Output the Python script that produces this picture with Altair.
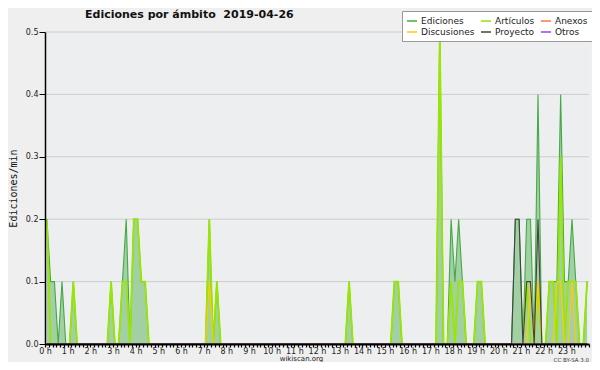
import json
import altair as alt
import pandas as pd

# ---- data (10-minute bins, value = edits per minute) ----
BINS = 144
ediciones = {0: 0.2, 1: 0.1, 2: 0.1, 4: 0.1, 7: 0.1, 17: 0.1, 20: 0.1, 21: 0.2,
             23: 0.2, 24: 0.2, 25: 0.1, 26: 0.1, 43: 0.2, 45: 0.1, 80: 0.1,
             92: 0.1, 93: 0.1, 104: 0.5, 107: 0.2, 108: 0.1, 109: 0.2, 110: 0.1,
             114: 0.1, 115: 0.1, 124: 0.2, 125: 0.2, 127: 0.2, 128: 0.2, 130: 0.4,
             133: 0.1, 134: 0.1, 135: 0.1, 136: 0.4, 137: 0.1, 138: 0.1, 139: 0.2,
             140: 0.1, 143: 0.1}
articulos = {0: 0.2, 7: 0.1, 17: 0.1, 20: 0.1, 21: 0.1, 23: 0.2, 24: 0.2, 25: 0.1,
             26: 0.1, 43: 0.2, 45: 0.1, 80: 0.1, 92: 0.1, 93: 0.1, 104: 0.5,
             107: 0.1, 109: 0.1, 110: 0.1, 114: 0.1, 115: 0.1, 127: 0.1, 130: 0.1,
             133: 0.1, 134: 0.1, 136: 0.3, 138: 0.1, 139: 0.1, 140: 0.1, 143: 0.1}
discusiones = {43: 0.1, 128: 0.1, 130: 0.1, 135: 0.1, 136: 0.1, 139: 0.1}
anexos = {}
otros = {}
proyecto = {124: 0.2, 125: 0.2, 127: 0.1, 128: 0.1, 130: 0.2}

hour_labels = [f"{h} h" for h in range(24)]
# legend is filled column by column: (Ediciones, Discusiones), (Artículos, Proyecto), (Anexos, Otros)
legend_order = ["Ediciones", "Discusiones", "Artículos", "Proyecto", "Anexos", "Otros"]
legend_colors = ["#44aa44", "#ffcc00", "#99e600", "#444444", "#ff7744", "#9944ee"]
grid_values = [0.1, 0.2, 0.3, 0.4, 0.5]
title_text = "Ediciones por ámbito\u00a0\u00a02019-04-26"
license_text = "CC BY-SA 3.0"

draw_order = [("Ediciones", ediciones), ("Artículos", articulos),
              ("Discusiones", discusiones), ("Anexos", anexos),
              ("Otros", otros), ("Proyecto", proyecto)]
rows = []
for name, vals in draw_order:
    for i in range(BINS):
        rows.append({"serie": name, "minuto": i * 10 + 5, "valor": vals.get(i, 0.0)})
df = pd.DataFrame(rows)

x_ticks = list(range(0, 1441, 10))
y_ticks = [k * 0.025 for k in range(21)]
major_test = "abs(datum.value*10 - round(datum.value*10)) < 0.000001"

x_enc = alt.X("minuto:Q", scale=alt.Scale(domain=[0, 1440], nice=False),
              axis=alt.Axis(values=x_ticks,
                            labelExpr="datum.value % 60 == 0 && datum.value < 1440 ? "
                                      + json.dumps(hour_labels) + "[datum.value/60] : ''",
                            labelOverlap=False, labelFlush=False, grid=False,
                            tickSize=3, tickWidth=1.2, tickColor="#000",
                            domainColor="#000", domainWidth=2,
                            labelFont="DejaVu Sans", labelFontSize=8, labelColor="#222",
                            labelPadding=0, title="wikiscan.org",
                            titleFont="DejaVu Sans", titleFontSize=7, titleFontWeight="normal",
                            titleColor="#222", titleX=256, titleY=14.5,
                            titleBaseline="middle", titleAlign="center", zindex=1))
y_enc = alt.Y("valor:Q", scale=alt.Scale(domain=[0, 0.5], nice=False),
              axis=alt.Axis(values=y_ticks,
                            labelExpr=f"{major_test} ? format(datum.value, '.1f') : ''",
                            labelOverlap=False, labelFlush=False, grid=False,
                            tickSize={"condition": {"test": major_test, "value": 6}, "value": 2},
                            tickWidth=1, tickColor="#000",
                            domainColor="#000", domainWidth=1.5,
                            labelFont="DejaVu Sans", labelFontSize=8, labelColor="#222",
                            labelPadding=1, title="Ediciones/min",
                            titleFont="DejaVu Sans Mono", titleFontSize=10,
                            titleFontWeight="normal", titleColor="#111",
                            titleX=-32, titleY=156, titleBaseline="middle",
                            titleAlign="center", zindex=1))

grid = alt.Chart(pd.DataFrame({"g": grid_values})).mark_rule(
    color="#cccccc", strokeWidth=1).encode(y=alt.Y("g:Q"))

area = alt.Chart(df).transform_filter(alt.datum.serie == "Ediciones").mark_area(
    color="#9fcc9f", opacity=0.95, interpolate="linear").encode(x=x_enc, y=y_enc)

lines = alt.Chart(df).mark_line(interpolate="linear").encode(
    x=x_enc, y=y_enc,
    color=alt.Color("serie:N",
                    scale=alt.Scale(domain=legend_order, range=legend_colors),
                    legend=alt.Legend(title=None, orient="none", legendX=357, legendY=-21,
                                      columns=3, columnPadding=3, rowPadding=0,
                                      gridAlign="each",
                                      symbolType="stroke", symbolSize=100,
                                      symbolStrokeWidth=1.5, labelFont="DejaVu Sans",
                                      labelFontSize=9, labelColor="#222", labelOffset=3,
                                      padding=4, fillColor="white", strokeColor="#999",
                                      zindex=2)),
    strokeWidth=alt.condition(alt.datum.serie == "Artículos", alt.value(1.8), alt.value(1.1)),
)

shadow = alt.Chart(pd.DataFrame({"s": [1]})).mark_rect(color="#888888").encode(
    x=alt.value(361), x2=alt.value(550), y=alt.value(-17), y2=alt.value(10))

title = alt.Chart(pd.DataFrame({"t": [title_text]})).mark_text(
    align="left", baseline="alphabetic", font="DejaVu Sans", fontSize=11,
    fontWeight="bold", color="#111"
).encode(text="t:N", x=alt.value(40), y=alt.value(-14))

license_txt = alt.Chart(pd.DataFrame({"t": [license_text]})).mark_text(
    align="right", baseline="middle", font="DejaVu Sans", fontSize=5.5, color="#333"
).encode(text="t:N", x=alt.value(544), y=alt.value(327.5))

chart = alt.layer(grid, area, lines, shadow, title, license_txt).properties(
    width=544, height=312,
    padding={"left": 37, "top": 24, "right": 3, "bottom": 18},
    autosize=alt.AutoSizeParams(type="none"),
    background="#efefef",
).configure_view(strokeWidth=0, fill="#edeef0")

chart.save("out.html", embed_options={"renderer": "svg", "actions": False})
